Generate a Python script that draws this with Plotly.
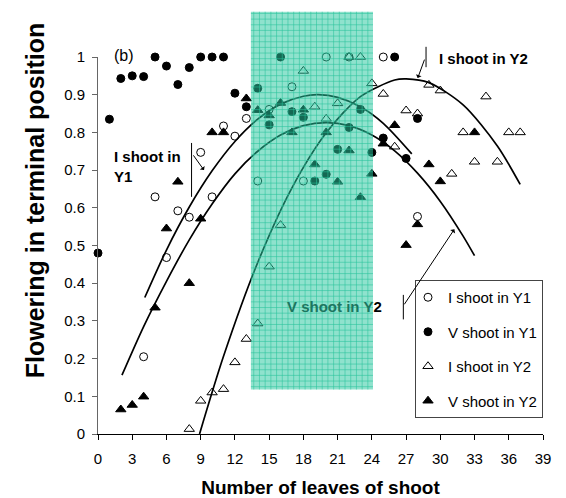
import plotly.graph_objects as go

# ---------------- data ----------------
iy1_x = [4, 5, 6, 7, 8, 9, 10, 11, 12, 13, 14, 15, 17, 18, 20, 22, 25, 28]
iy1_y = [0.205, 0.629, 0.468, 0.592, 0.575, 0.747, 0.629, 0.817, 0.79, 0.837,
         0.671, 0.861, 0.921, 0.671, 1.0, 1.0, 1.0, 0.577]

vy1_x = [0, 1, 2, 3, 4, 5, 6, 7, 8, 9, 10, 11, 12, 13, 14, 15, 16, 17, 18, 19,
         20, 21, 22, 23, 24, 25, 26, 27, 28]
vy1_y = [0.48, 0.835, 0.943, 0.95, 0.948, 1.0, 0.976, 0.927, 0.972, 1.0, 1.0,
         1.0, 0.904, 0.868, 0.917, 0.82, 1.0, 0.855, 0.84, 0.671, 0.689, 0.755,
         0.813, 0.861, 0.747, 0.785, 1.0, 0.731, 0.837]

iy2_x = [8, 9, 10, 11, 12, 13, 14, 15, 16, 18, 19, 20, 21, 22, 23, 24, 25, 26,
         27, 28, 29, 30, 31, 32, 33, 34, 35, 36, 37]
iy2_y = [0.013, 0.088, 0.11, 0.119, 0.19, 0.252, 0.293, 0.444, 0.554, 0.963,
         0.868, 0.836, 0.877, 1.0, 1.0, 0.93, 0.902, 0.762, 0.858, 0.85, 0.926,
         0.911, 0.69, 0.80, 0.722, 0.895, 0.722, 0.80, 0.80]

vy2_x = [2, 3, 4, 5, 6, 7, 8, 9, 10, 11, 13, 14, 15, 16, 17, 18, 19, 20, 21, 22,
         23, 24, 25, 26, 27, 28, 29, 30, 33]
vy2_y = [0.065, 0.077, 0.099, 0.335, 0.545, 0.669, 0.40, 0.571, 0.80, 0.80,
         0.89, 0.859, 0.845, 0.878, 0.80, 0.86, 0.715, 0.80, 0.669, 0.752,
         0.628, 0.69, 0.77, 0.819, 0.501, 0.556, 0.715, 0.67, 0.80]

# trend curves
iy1_curve_x = [4.1, 6, 8, 10, 12, 14, 16, 18, 19.3, 21, 23, 25, 27.5]
iy1_curve_y = [0.362, 0.488, 0.602, 0.698, 0.776, 0.835, 0.875, 0.896, 0.9,
               0.893, 0.868, 0.824, 0.743]

vy2_curve_x = [2.1, 4, 6, 8, 10, 12, 14, 16, 18, 20, 22, 24, 26, 28, 30, 32, 33]
vy2_curve_y = [0.156, 0.285, 0.405, 0.515, 0.61, 0.69, 0.75, 0.793, 0.818,
               0.826, 0.818, 0.793, 0.751, 0.692, 0.617, 0.525, 0.473]

iy2_curve_x = [8.9, 11, 14, 17, 20, 23, 26, 27, 29, 32, 35, 37]
iy2_curve_y = [0.0, 0.206, 0.455, 0.653, 0.799, 0.895, 0.939, 0.942, 0.932,
               0.873, 0.764, 0.662]

x_ticks = list(range(0, 40, 3))
shade_x = [13.4, 24.1]
shade_y = [0.118, 1.12]

FONT = "Liberation Sans, Arial, sans-serif"

fig = go.Figure()

curve_style = dict(color="black", width=1.7, shape="spline", smoothing=0.8)
for cx, cy in [(iy1_curve_x, iy1_curve_y), (vy2_curve_x, vy2_curve_y),
               (iy2_curve_x, iy2_curve_y)]:
    fig.add_trace(go.Scatter(x=cx, y=cy, mode="lines", line=curve_style,
                             showlegend=False, hoverinfo="skip",
                             cliponaxis=False))

series = [
    ("I shoot in Y1", iy1_x, iy1_y, "circle-open", 8),
    ("V shoot in Y1", vy1_x, vy1_y, "circle", 8),
    ("I shoot in Y2", iy2_x, iy2_y, "triangle-up-open", 9),
    ("V shoot in Y2", vy2_x, vy2_y, "triangle-up", 9),
]
for i, (name, xs, ys, sym, sz) in enumerate(series):
    fig.add_trace(go.Scatter(
        x=xs, y=ys, mode="markers", name=name, legendgroup=f"g{i}",
        marker=dict(symbol=sym, size=sz, color="black",
                    line=dict(color="black", width=1)),
        cliponaxis=False))

# shaded band (drawn on top, semi-transparent) with a fine grid texture
shapes = [dict(type="rect", xref="x", yref="paper",
               x0=shade_x[0], x1=shade_x[1], y0=shade_y[0], y1=shade_y[1],
               fillcolor="rgba(40,200,160,0.52)", line=dict(width=0),
               layer="above")]
grid_dx = 0.5
grid_dy = 0.015
gx = shade_x[0] + grid_dx / 2
while gx < shade_x[1]:
    shapes.append(dict(type="line", xref="x", yref="paper", x0=gx, x1=gx,
                       y0=shade_y[0], y1=shade_y[1], layer="above",
                       line=dict(color="rgba(40,195,155,0.55)", width=1)))
    gx += grid_dx
gy = shade_y[0] + grid_dy / 2
while gy < shade_y[1]:
    shapes.append(dict(type="line", xref="x", yref="paper", x0=shade_x[0],
                       x1=shade_x[1], y0=gy, y1=gy, layer="above",
                       line=dict(color="rgba(40,195,155,0.55)", width=1)))
    gy += grid_dy

# callout vertical strokes
for (lx, ly0, ly1) in [(8.2, 0.772, 0.629), (28.75, 1.027, 0.973),
                       (26.76, 0.369, 0.304)]:
    shapes.append(dict(type="line", xref="x", yref="paper", x0=lx, x1=lx,
                       y0=ly0, y1=ly1, line=dict(color="black", width=1)))

annotations = [
    dict(text="(b)", xref="x", yref="paper", x=2.3, y=1.032, showarrow=False,
         font=dict(size=16, color="black", family=FONT)),
    dict(text="<b>I shoot in<br>Y1</b>", xref="x", yref="paper", x=1.2,
         y=0.709, xanchor="left", yanchor="middle", align="left",
         showarrow=False, font=dict(size=15, color="black", family=FONT)),
    dict(text="<b>I shoot in Y2</b>", xref="x", yref="paper", x=29.7,
         y=0.997, xanchor="left", yanchor="middle", showarrow=False,
         font=dict(size=15, color="black", family=FONT)),
    dict(text="<b><span style='color:#1c7660'>V shoot in Y</span>2</b>",
         xref="x", yref="paper", x=16.4, y=0.338, xanchor="left",
         yanchor="middle", showarrow=False,
         font=dict(size=15, color="black", family=FONT)),
    # arrows
    dict(text="", xref="x", yref="y", axref="x", ayref="y",
         x=9.29, y=0.70, ax=8.27, ay=0.743, showarrow=True, arrowhead=1,
         arrowsize=1, arrowwidth=1, arrowcolor="black"),
    dict(text="", xref="x", yref="y", axref="x", ayref="y",
         x=28.02, y=0.944, ax=28.66, ay=0.997, showarrow=True, arrowhead=1,
         arrowsize=1, arrowwidth=1, arrowcolor="black"),
    dict(text="", xref="x", yref="y", axref="x", ayref="y",
         x=31.23, y=0.543, ax=26.76, ay=0.34, showarrow=True, arrowhead=1,
         arrowsize=1, arrowwidth=1, arrowcolor="black"),
    # y axis title
    dict(text="<b>Flowering in terminal position</b>", xref="paper",
         yref="paper", x=-0.1416, y=0.62, textangle=-90, showarrow=False,
         xanchor="center", yanchor="middle",
         font=dict(size=25, color="black", family=FONT)),
]

fig.update_layout(
    width=566, height=498,
    margin=dict(l=98, r=23, t=57, b=64, autoexpand=False),
    paper_bgcolor="white", plot_bgcolor="white",
    font=dict(family=FONT, size=15, color="black"),
    shapes=shapes, annotations=annotations,
    legend=dict(x=1.0, xanchor="right", y=0.4085, yanchor="top",
                bgcolor="white", bordercolor="#444", borderwidth=1,
                font=dict(size=15, family=FONT), traceorder="grouped",
                tracegroupgap=12, indentation=-8),
    xaxis=dict(range=[0, 39], tickmode="array", tickvals=x_ticks,
               ticks="outside", ticklen=5, tickcolor="black",
               showline=True, linecolor="black", linewidth=1,
               showgrid=False, zeroline=False, automargin=False,
               tickfont=dict(size=15), ticklabelstandoff=6,
               title=dict(text="<b>Number of leaves of shoot</b>",
                          font=dict(size=19), standoff=14)),
    yaxis=dict(range=[0, 1], dtick=0.1, tick0=0, ticks="outside", ticklen=5,
               tickcolor="#666", showline=True, linecolor="#666", linewidth=1,
               showgrid=False, zeroline=False, tickfont=dict(size=15),
               ticklabelstandoff=4, automargin=False),
)

fig.write_html("out.html")
